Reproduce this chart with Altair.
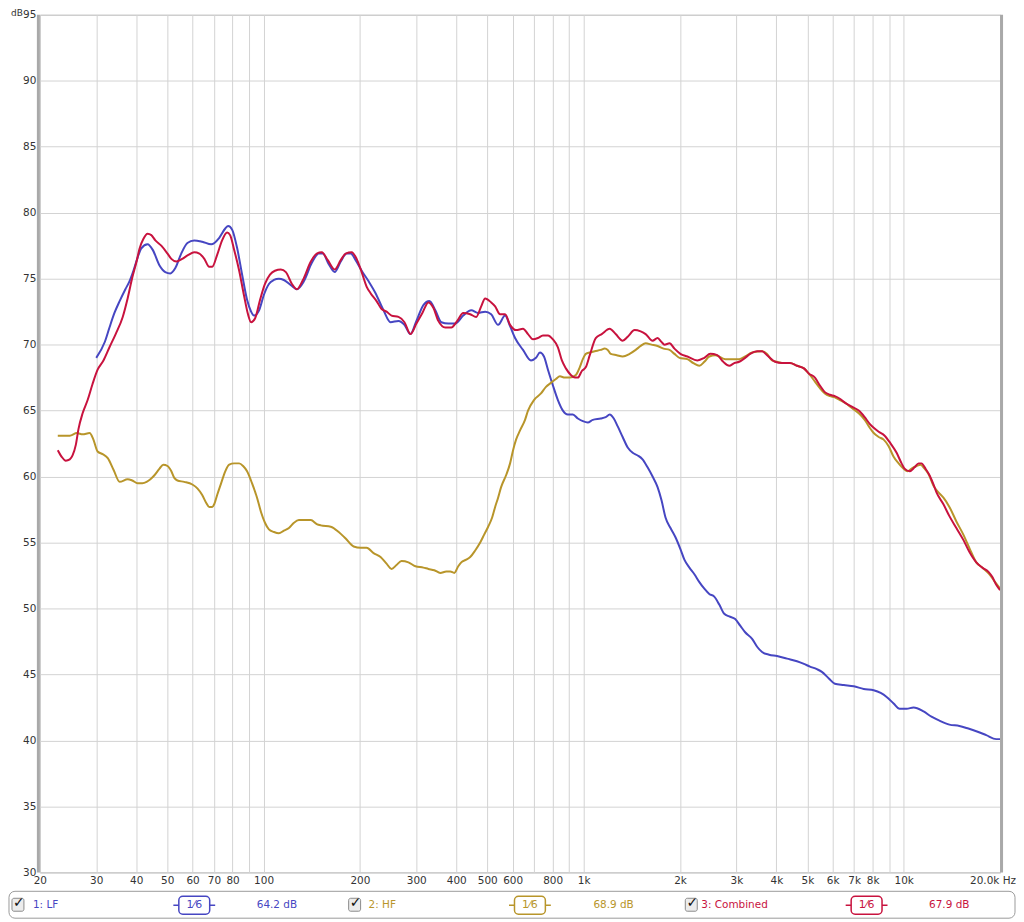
import altair as alt
import pandas as pd

# ---------------- data ----------------
LF_FREQ = [30.0, 31.9, 33.0, 34.2, 35.5, 37.0, 38.1, 39.2, 40.4, 41.5, 43.4, 45.0, 47.3, 49.3, 51.1, 53.0, 55.3,
           57.8, 60.7, 64.3, 68.6, 72.7, 75.9, 77.5, 79.8, 82.7, 85.7, 88.8, 91.4, 93.4, 96.8, 100.3, 103.9,
           107.7, 111.6, 115.7, 121.7, 127.1, 133.6, 141.5, 148.8, 153.1, 159.8, 166.8, 174.2, 181.8, 187.1,
           193.9, 202.5, 212.9, 223.8, 237.0, 249.2, 263.9, 275.5, 287.6, 300.3, 315.7, 329.6, 344.0, 359.2,
           377.7, 397.1, 420.5, 445.4, 468.3, 492.4, 514.0, 540.4, 568.2, 589.0, 610.5, 646.5, 684.7, 709.7,
           730.4, 751.6, 773.5, 801.7, 830.9, 861.3, 892.7, 925.3, 959.1, 994.1, 1030, 1068, 1131, 1172, 1206,
           1242, 1278, 1324, 1373, 1423, 1475, 1528, 1584, 1642, 1702, 1751, 1802, 1868, 1936, 2006, 2064,
           2140, 2218, 2299, 2383, 2469, 2559, 2653, 2750, 2850, 2975, 3084, 3196, 3360, 3483, 3610, 3796,
           4020, 4319, 4640, 4878, 5094, 5356, 5550, 5836, 6092, 6500, 6982, 7500, 8058, 8472, 8844, 9300,
           9708, 10208, 10734, 11532, 12212, 12932, 13892, 14924, 15918, 16856, 18108, 19458, 20000]
LF_DB = [69.0, 70.2, 71.3, 72.4, 73.3, 74.2, 74.8, 75.6, 76.6, 77.3, 77.6, 77.2, 76.0, 75.5, 75.4, 75.8, 76.9,
         77.7, 77.9, 77.8, 77.6, 78.1, 78.8, 79.0, 78.7, 77.3, 75.3, 73.4, 72.5, 72.2, 72.6, 73.8, 74.6,
         74.9, 75.0, 74.9, 74.5, 74.2, 74.8, 76.2, 76.9, 76.9, 76.1, 75.5, 76.3, 76.9, 76.9,
         76.4, 75.6, 74.8, 73.9, 72.6, 71.7, 71.8, 71.5, 70.8, 71.8, 73.0, 73.3, 72.6, 71.7,
         71.6, 71.6, 72.2, 72.6, 72.4, 72.5, 72.3, 71.5, 72.2, 71.4, 70.5, 69.6, 68.8, 69.0,
         69.4, 69.1, 68.1, 66.9, 65.8, 65.0, 64.7, 64.7, 64.4, 64.2, 64.1, 64.3, 64.4, 64.5, 64.7,
         64.4, 63.8, 63.0, 62.2, 61.8, 61.6, 61.3, 60.7, 60.0, 59.2, 58.2, 56.9, 56.1, 55.4, 54.5, 53.7,
         53.1, 52.6, 52.0, 51.5, 51.1, 50.9, 50.3, 49.6, 49.4, 49.2, 48.7, 48.2, 47.7, 47.1, 46.7, 46.5,
         46.4, 46.2, 46.0, 45.8, 45.6, 45.4, 45.2, 44.7, 44.3, 44.2, 44.1, 43.9, 43.8, 43.6, 43.3, 42.8,
         42.4, 42.4, 42.5, 42.2, 41.8, 41.5, 41.2, 41.1, 40.9, 40.7, 40.4, 40.1, 40.1]

HF_FREQ = [22.75, 23.75, 24.8, 26.1, 27.2, 28.6, 29.4, 30.3, 31.4, 32.6, 34.0, 35.5, 37.6, 38.9, 40.4, 41.8,
           43.1, 44.3, 45.6, 47.3, 48.6, 50.1, 51.5, 52.6, 53.8, 56.5, 59.9, 62.1, 64.3, 66.2, 67.6, 69.1,
           70.1, 71.6, 73.7, 75.9, 78.1, 80.9, 83.9, 86.3, 88.8, 92.0, 95.4, 98.2, 101.0, 103.9, 107.7,
           111.6, 115.7, 120.0, 124.4, 128.9, 135.5, 140.5, 146.6, 150.9, 162.1, 171.7, 180.5, 191.2, 201.0,
           209.8, 220.6, 232.0, 242.2, 251.0, 260.2, 269.7, 283.5, 298.1, 315.7, 327.2, 341.6, 356.6, 372.3,
           383.1, 394.3, 405.7, 414.6, 429.7, 442.2, 458.3, 475.1, 488.9, 503.1, 517.7, 529.0, 540.4, 552.2,
           572.3, 589.0, 601.8, 614.9, 632.8, 655.9, 670.1, 699.6, 735.6, 762.5, 790.3, 819.1, 843.0, 873.7,
           905.6, 945.4, 972.9, 994.1, 1016, 1045, 1083, 1131, 1164, 1189, 1215, 1269, 1324, 1392, 1454,
           1507, 1562, 1630, 1702, 1777, 1855, 1922, 1992, 2109, 2202, 2299, 2383, 2469, 2578, 2769, 2912,
           3062, 3196, 3360, 3610, 3742, 3878, 4020, 4227, 4412, 4640, 4878, 5057, 5280, 5472, 5670, 5878,
           6092, 6316, 6546, 6884, 7236, 7554, 7830, 8058, 8352, 8656, 8972, 9300, 9638, 9990, 10282, 10580,
           10968, 11286, 11614, 11952, 12388, 12840, 13308, 13892, 14606, 15358, 16032, 16856, 17596, 18502,
           19176, 20000]
HF_DB = [63.1, 63.1, 63.1, 63.3, 63.2, 63.3, 62.8, 61.9, 61.7, 61.4, 60.5, 59.6, 59.8, 59.7, 59.5, 59.5,
         59.6, 59.8, 60.1, 60.6, 60.9, 60.8, 60.4, 59.9, 59.7, 59.6, 59.4, 59.1, 58.6, 58.0, 57.7, 57.7,
         57.9, 58.6, 59.5, 60.4, 60.9, 61.0, 61.0, 60.8, 60.4, 59.5, 58.4, 57.3, 56.5, 56.0, 55.8,
         55.7, 55.9, 56.1, 56.5, 56.7, 56.7, 56.7, 56.4, 56.3, 56.2, 55.8, 55.3, 54.7, 54.6,
         54.6, 54.2, 53.9, 53.4, 53.0, 53.3, 53.6, 53.5, 53.2, 53.1, 53.0, 52.9, 52.7, 52.8,
         52.8, 52.7, 53.2, 53.5, 53.7, 53.9, 54.4, 55.0, 55.6, 56.2, 56.9, 57.7, 58.4, 59.2,
         60.1, 61.0, 62.0, 62.8, 63.5, 64.3, 65.0, 65.8, 66.3, 66.8, 67.1, 67.4, 67.6, 67.5,
         67.5, 67.7, 68.3, 68.9, 69.3, 69.4, 69.5, 69.6, 69.7, 69.6, 69.3, 69.2, 69.1, 69.3, 69.6,
         69.9, 70.1, 70.0, 69.9, 69.7, 69.6, 69.3, 69.0, 68.9, 68.6, 68.4, 68.7, 69.1, 69.2, 68.9, 68.9,
         68.9, 69.1, 69.4, 69.5, 69.3, 68.8, 68.7, 68.6, 68.6, 68.4, 68.2, 67.8, 67.2, 66.7, 66.3, 66.1,
         66.0, 65.8, 65.6, 65.2, 64.8, 64.3, 63.7, 63.3, 63.0, 62.8, 62.3, 61.5, 61.0, 60.6, 60.4, 60.6,
         60.8, 60.9, 60.6, 60.2, 59.3, 58.8, 58.4, 57.7, 56.6, 55.6, 54.6, 53.5, 53.1, 52.6,
         52.1, 51.5]

CMB_FREQ = [22.75, 23.4, 24.1, 24.8, 25.3, 25.9, 26.4, 27.2, 28.2, 29.2, 30.3, 31.6, 33.0, 34.5, 36.3, 37.6,
            38.9, 40.1, 41.0, 42.1, 43.4, 44.6, 45.9, 47.9, 50.1, 51.5, 53.4, 55.7, 58.2, 60.7, 63.0, 65.3,
            67.6, 69.1, 71.6, 74.2, 76.9, 78.6, 80.9, 83.9, 86.9, 89.4, 91.4, 94.1, 97.5, 101.0, 104.7,
            108.5, 113.2, 117.4, 122.6, 127.1, 132.7, 140.5, 146.6, 152.0, 158.7, 166.8, 174.2, 180.5,
            188.5, 195.3, 202.5, 209.8, 215.9, 225.4, 233.7, 242.2, 251.0, 263.9, 275.5, 287.6, 300.3,
            313.4, 327.2, 339.1, 351.5, 369.6, 385.9, 402.8, 420.5, 442.2, 461.6, 478.5, 492.4, 514.0,
            529.0, 548.2, 568.2, 589.0, 614.9, 646.5, 670.1, 694.6, 719.9, 746.2, 773.5, 801.7, 830.9,
            855.1, 880.0, 912.1, 938.7, 959.1, 987.0, 1016, 1045, 1091, 1139, 1206, 1259, 1324, 1373, 1443,
            1507, 1562, 1642, 1702, 1751, 1789, 1855, 1922, 2006, 2109, 2266, 2383, 2487, 2615, 2730, 2850,
            2954, 3062, 3196, 3313, 3483, 3610, 3742, 3963, 4167, 4412, 4640, 4878, 5057, 5280, 5472, 5670,
            5878, 6092, 6316, 6546, 6884, 7236, 7554, 7830, 8058, 8352, 8718, 9102, 9502, 9848, 10062,
            10430, 10812, 11126, 11368, 11698, 12038, 12388, 12658, 13308, 13892, 14606, 15358, 16032,
            16856, 17596, 18370, 18904, 19458, 20000]
CMB_DB = [62.0, 61.5, 61.2, 61.3, 61.6, 62.4, 63.6, 64.8, 65.8, 67.0, 68.1, 68.8, 69.8, 70.8, 72.1, 73.5,
          75.1, 76.3, 77.3, 78.0, 78.4, 78.3, 77.9, 77.5, 76.9, 76.5, 76.3, 76.5, 76.8, 77.0, 76.9, 76.5,
          75.9, 75.9, 76.8, 77.9, 78.5, 78.3, 77.2, 75.6, 73.7, 72.3, 71.7, 72.0, 73.4, 74.6, 75.3,
          75.6, 75.7, 75.5, 74.6, 74.2, 74.9, 76.3, 76.9, 77.0, 76.4, 75.7, 76.4, 76.9,
          77.0, 76.5, 75.5, 74.4, 73.9, 73.3, 72.7, 72.5, 72.2, 72.1, 71.7, 70.8, 71.6,
          72.4, 73.2, 72.8, 71.8, 71.3, 71.3, 71.8, 72.4, 72.3, 72.1, 72.9, 73.5, 73.2,
          72.9, 72.3, 72.3, 71.5, 71.1, 71.2, 70.8, 70.4, 70.5, 70.7, 70.7, 70.4, 69.8,
          68.8, 68.2, 67.7, 67.5, 67.5, 68.0, 68.3, 69.2, 70.5, 70.8, 71.2, 70.8, 70.3, 70.6, 71.1,
          71.0, 70.8, 70.3, 70.5, 70.2, 70.0, 70.1, 69.7, 69.3, 69.1, 68.8, 69.0, 69.3, 69.2, 68.7, 68.4,
          68.6, 68.7, 69.0, 69.3, 69.5, 69.5, 69.2, 68.7, 68.6, 68.6, 68.4, 68.2, 67.8, 67.5, 66.9, 66.4,
          66.2, 66.1, 65.9, 65.6, 65.3, 65.0, 64.5, 64.0, 63.7, 63.4, 63.1, 62.5, 61.8, 61.0, 60.6,
          60.4, 60.7, 61.0, 61.0, 60.6, 60.1, 59.4, 58.8, 57.9, 57.0, 56.1, 55.2, 54.3,
          53.5, 53.1, 52.8, 52.4, 51.8, 51.4]

SERIES = ["1: LF", "2: HF", "3: Combined"]
COLORS = ["#4646c2", "#b8952a", "#c8123e"]
LEVELS = ["64.2 dB", "68.9 dB", "67.9 dB"]
SMOOTHING = "1\u20446"

GRID_HZ = [20, 30, 40, 50, 60, 70, 80, 90, 100, 200, 300, 400, 500, 600, 700, 800, 900,
           1000, 2000, 3000, 4000, 5000, 6000, 7000, 8000, 9000, 10000, 20000]
TICK_HZ = [20, 30, 40, 50, 60, 70, 80, 100, 200, 300, 400, 500, 600, 800,
           1000, 2000, 3000, 4000, 5000, 6000, 7000, 8000, 10000]
TICK_TEXT = ["20", "30", "40", "50", "60", "70", "80", "100", "200", "300", "400", "500", "600", "800",
             "1k", "2k", "3k", "4k", "5k", "6k", "7k", "8k", "10k"]
LAST_TICK = (20000, "20.0k Hz")
Y_TICKS = [30, 35, 40, 45, 50, 55, 60, 65, 70, 75, 80, 85, 90, 95]

# ---------------- build ----------------
df = pd.concat([
    pd.DataFrame({"freq": LF_FREQ, "db": LF_DB, "series": SERIES[0]}),
    pd.DataFrame({"freq": HF_FREQ, "db": HF_DB, "series": SERIES[1]}),
    pd.DataFrame({"freq": CMB_FREQ, "db": CMB_DB, "series": SERIES[2]}),
])

FONT = "DejaVu Sans"
W, H = 964, 861
GRID = "#d3d3d3"

label_expr = "".join(f"datum.value == {v} ? '{t}' : " for v, t in zip(TICK_HZ, TICK_TEXT)) + "''"

xenc = alt.X("freq:Q",
             scale=alt.Scale(type="log", domain=[20, 20000], nice=False),
             axis=alt.Axis(values=GRID_HZ, labelExpr=label_expr, title=None, grid=True,
                           gridColor=GRID, gridWidth=1, domain=False, ticks=False,
                           labelFont=FONT, labelFontSize=10.5, labelColor="#333333",
                           labelPadding=3, labelOverlap=False, labelFlush=False, labelBound=False))
yenc = alt.Y("db:Q",
             scale=alt.Scale(domain=[30, 95], nice=False, zero=False),
             axis=alt.Axis(values=Y_TICKS, title=None, grid=True, gridColor=GRID, gridWidth=1,
                           domain=False, ticks=False, labelFont=FONT, labelFontSize=10.5,
                           labelColor="#333333", labelPadding=4))

lines = alt.Chart(df).mark_line(strokeWidth=2, interpolate="monotone").encode(
    x=xenc, y=yenc,
    color=alt.Color("series:N", scale=alt.Scale(domain=SERIES, range=COLORS), legend=None),
)

one = pd.DataFrame({"k": [0]})


def txt(s, px, py, color, size=10.5, align="left", baseline="middle", weight="normal"):
    return alt.Chart(one).mark_text(text=s, align=align, baseline=baseline, fontSize=size, font=FONT,
                                    color=color, fontWeight=weight).encode(
        x=alt.value(px), y=alt.value(py))


def box(x1, x2, y1, y2, stroke, fill, radius, sw=1.0):
    return alt.Chart(one).mark_rect(stroke=stroke, fill=fill, cornerRadius=radius, strokeWidth=sw).encode(
        x=alt.value(x1), x2=alt.value(x2), y=alt.value(y1), y2=alt.value(y2))


def hline(x1, x2, py, color, sw=1.5):
    return alt.Chart(one).mark_rule(color=color, strokeWidth=sw).encode(
        x=alt.value(x1), x2=alt.value(x2), y=alt.value(py))


def vline(px, y1, y2, color, sw):
    return alt.Chart(one).mark_rule(color=color, strokeWidth=sw).encode(
        x=alt.value(px), y=alt.value(y1), y2=alt.value(y2))


layers = [lines]

# frame
layers.append(vline(-1.5, 0, H, "#a9a9a9", 3))
layers.append(vline(W + 1.5, 0, H, "#a9a9a9", 3))

# last x label and the dB unit
last = alt.Chart(pd.DataFrame({"freq": [LAST_TICK[0]]})).mark_text(
    text=LAST_TICK[1], align="right", baseline="top", fontSize=10.5, font=FONT, color="#333333", dx=16
).encode(x=alt.X("freq:Q"), y=alt.value(H + 4))
layers.append(last)
layers.append(txt("dB", -17, -2, "#333333", size=9, align="right", baseline="middle"))

# legend strip
LY = 894
layers.append(box(-31, 979, 880, 907, "#9a9a9a", "white", 6))
check_x = [-28, 310, 648]
name_x = [-7, 330, 664]
icon_c = [155, 492, 830]
level_c = [238, 576, 913]
for i in range(3):
    c = COLORS[i]
    layers.append(box(check_x[i], check_x[i] + 12, 887, 900, "#8a8a8a", "#ececec", 2))
    layers.append(txt("\u2713", check_x[i] + 7, 892, "#111111", size=14, align="center", weight="bold"))
    layers.append(txt(SERIES[i], name_x[i], LY, c))
    layers.append(hline(icon_c[i] - 21, icon_c[i] + 21, LY, c))
    layers.append(box(icon_c[i] - 15.5, icon_c[i] + 15.5, 885, 903, c, "white", 4, 1.5))
    layers.append(txt(SMOOTHING, icon_c[i], LY, c, size=11, align="center"))
    layers.append(txt(LEVELS[i], level_c[i], LY, c, align="center"))

chart = alt.layer(*layers).properties(
    width=W, height=H,
    autosize=alt.AutoSizeParams(type="none"),
    padding={"left": 32, "top": 5, "right": 16, "bottom": 48},
    background="white",
).configure_view(stroke="#a8a8a8", strokeWidth=1)

chart.save("out.html", embed_options={"renderer": "svg", "actions": False})
